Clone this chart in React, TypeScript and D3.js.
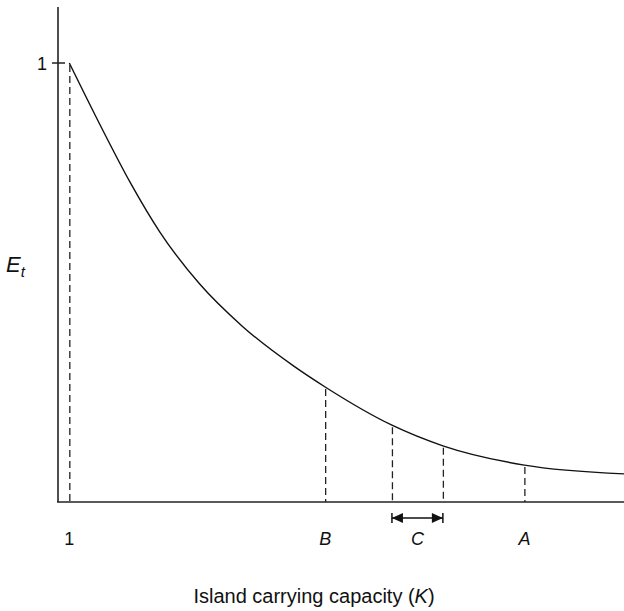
import React, { useEffect, useRef } from 'react';
import * as d3 from 'd3';

// curve: carrying capacity K vs extinction E_t
const capacity = [1, 3.7, 6.4, 9, 12.5, 16.3, 20.8, 23.6, 29.5, 34, 41.2, 50];
const extinction = [1, 0.86, 0.727, 0.615, 0.497, 0.4, 0.31, 0.262, 0.175, 0.128, 0.084, 0.064];

// dashed drop lines
const dropK = [1, 23.6, 29.5, 34, 41.2];
const dropE = [1, 0.262, 0.175, 0.128, 0.084];

// labels under the axis
const tickLabels = ['1', 'B', 'C', 'A'];
const tickK = [1, 23.6, 31.75, 41.2];
const rangeC = [29.5, 34];

const App = () => {
  const ref = useRef<SVGSVGElement>(null);

  useEffect(() => {
    const svg = d3.select(ref.current);
    svg.selectAll('*').remove();

    const x = d3.scaleLinear().domain([0, 50]).range([58, 624]);
    const y = d3.scaleLinear().domain([0, 1]).range([502, 63]);
    const font = 'Liberation Sans, Arial, sans-serif';

    // axes
    svg.append('line')
      .attr('x1', 58).attr('x2', 58).attr('y1', 7).attr('y2', y(0))
      .attr('stroke', '#222').attr('stroke-width', 1.6);
    svg.append('line')
      .attr('x1', 57).attr('x2', 624).attr('y1', y(0)).attr('y2', y(0))
      .attr('stroke', '#222').attr('stroke-width', 1.6);

    // y tick at 1
    svg.append('line')
      .attr('x1', 52).attr('x2', 65).attr('y1', y(1)).attr('y2', y(1))
      .attr('stroke', '#222').attr('stroke-width', 1.5);
    svg.append('text')
      .attr('x', 47).attr('y', y(1) + 7)
      .attr('text-anchor', 'end')
      .style('font-family', font).style('font-size', '18px').attr('fill', '#111')
      .text('1');

    // E_t label
    const et = svg.append('text')
      .attr('x', 6).attr('y', 272)
      .style('font-family', font).style('font-size', '22px').style('font-style', 'italic').attr('fill', '#111');
    et.append('tspan').text('E');
    et.append('tspan').attr('dy', 5).style('font-size', '15px').text('t');

    // dashed drops
    svg.selectAll('line.drop')
      .data(dropK)
      .join('line')
      .attr('class', 'drop')
      .attr('x1', d => x(d) + 0.5).attr('x2', d => x(d) + 0.5)
      .attr('y1', (d, i) => y(dropE[i]) + 2)
      .attr('y2', y(0))
      .attr('stroke', '#222').attr('stroke-width', 1.3)
      .attr('stroke-dasharray', '7,4');

    // curve
    const line = d3.line<number>()
      .x(d => x(d))
      .y((d, i) => y(extinction[i]))
      .curve(d3.curveMonotoneX);
    svg.append('path')
      .attr('d', line(capacity))
      .attr('fill', 'none')
      .attr('stroke', '#111').attr('stroke-width', 1.4);

    // arrow for C
    const ay = 518;
    const [c0, c1] = rangeC.map(d => x(d));
    svg.append('line')
      .attr('x1', c0).attr('x2', c1).attr('y1', ay).attr('y2', ay)
      .attr('stroke', '#111').attr('stroke-width', 1.5);
    [c0, c1].forEach(cx => {
      svg.append('line')
        .attr('x1', cx).attr('x2', cx).attr('y1', ay - 5).attr('y2', ay + 5)
        .attr('stroke', '#111').attr('stroke-width', 1.5);
    });
    svg.append('path')
      .attr('d', `M${c0},${ay} L${c0 + 11},${ay - 5} L${c0 + 11},${ay + 5} Z`)
      .attr('fill', '#111');
    svg.append('path')
      .attr('d', `M${c1},${ay} L${c1 - 11},${ay - 5} L${c1 - 11},${ay + 5} Z`)
      .attr('fill', '#111');

    // tick labels
    svg.selectAll('text.tl')
      .data(tickLabels)
      .join('text')
      .attr('class', 'tl')
      .attr('x', (d, i) => x(tickK[i]))
      .attr('y', 545)
      .attr('text-anchor', 'middle')
      .style('font-family', font).style('font-size', '18px')
      .style('font-style', d => (d === '1' ? 'normal' : 'italic'))
      .attr('fill', '#111')
      .text(d => d);

    // x title
    const title = svg.append('text')
      .attr('x', 314).attr('y', 603)
      .attr('text-anchor', 'middle')
      .style('font-family', font).style('font-size', '20px').attr('fill', '#111');
    title.append('tspan').text('Island carrying capacity (');
    title.append('tspan').style('font-style', 'italic').text('K');
    title.append('tspan').text(')');
  }, []);

  return (
    <svg ref={ref} width={624} height={611}
      style={{ position: 'absolute', left: 0, top: 0, background: '#fff' }} />
  );
};

export default App;
